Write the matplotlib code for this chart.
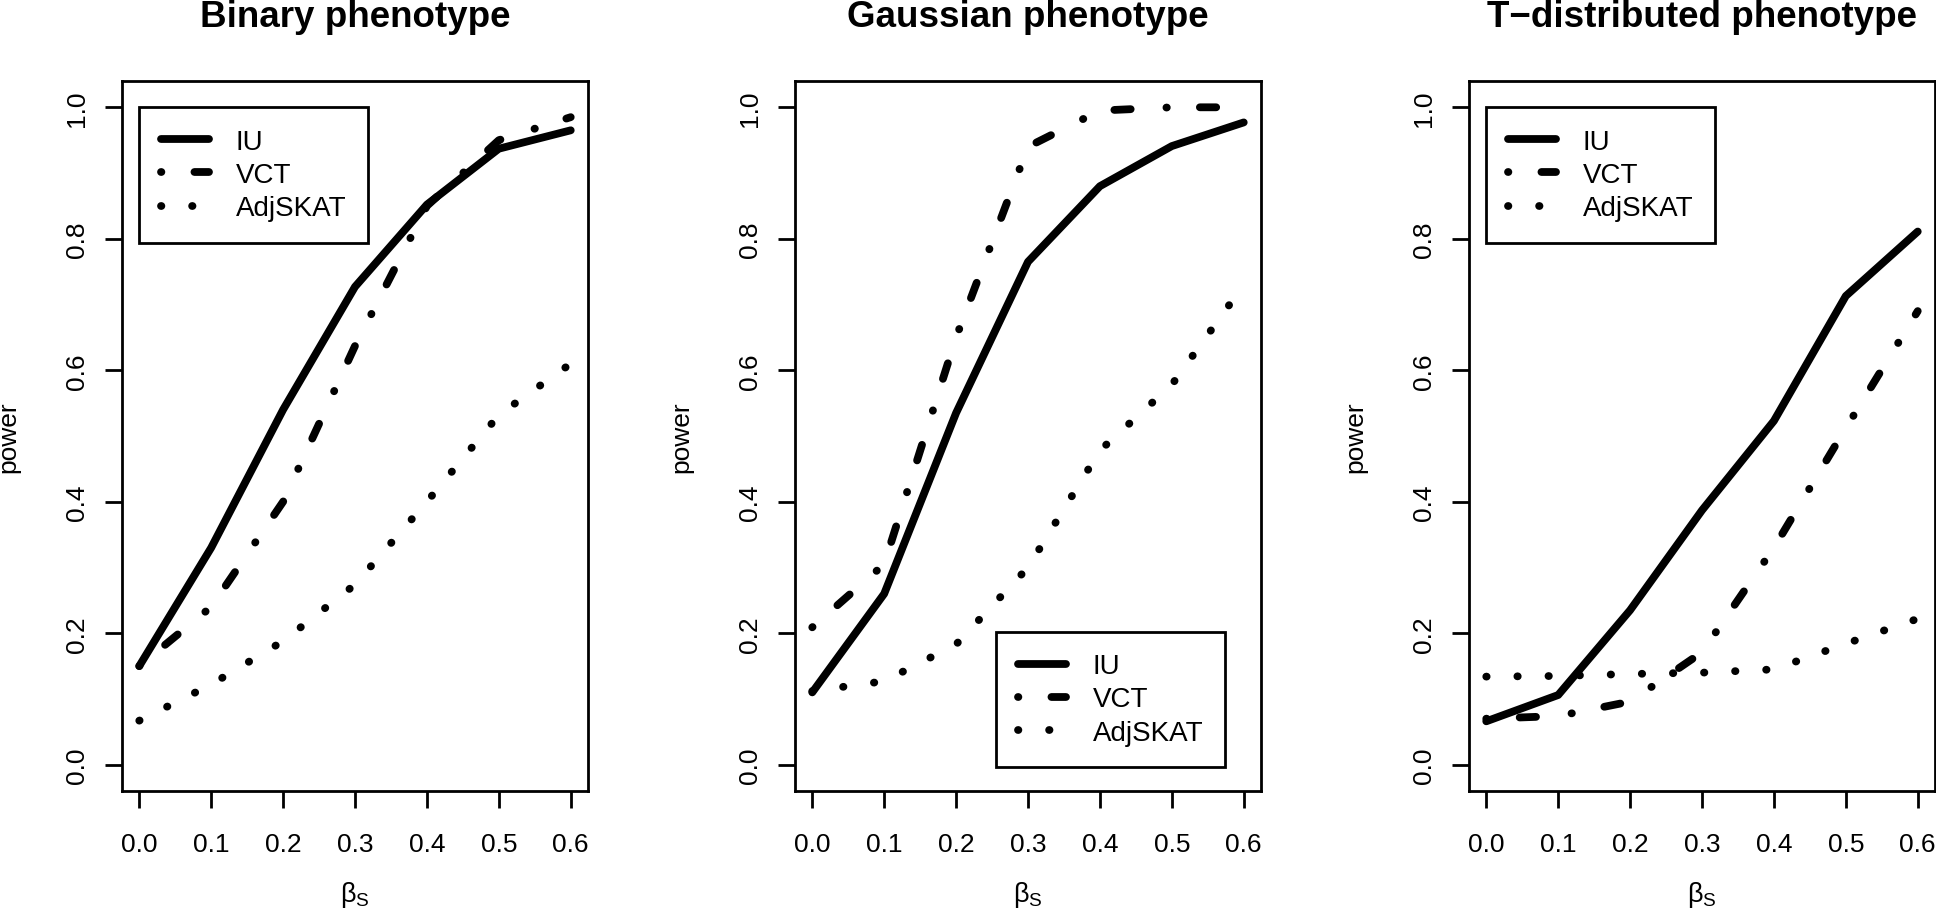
"""
Puissance des tests IU, VCT et AdjSKAT selon beta_S, pour trois phénotypes.
"""

import matplotlib
matplotlib.use("Agg")
import matplotlib.pyplot as plt

# ── Données ───────────────────────────────────────────────────────────
beta = [0.0, 0.1, 0.2, 0.3, 0.4, 0.5, 0.6]
titles = ["Binary phenotype", "Gaussian phenotype", "T\u2212distributed phenotype"]
methods = ["IU", "VCT", "AdjSKAT"]

iu_binary = [0.15, 0.33, 0.54, 0.727, 0.852, 0.937, 0.965]
vct_binary = [0.15, 0.24, 0.40, 0.637, 0.85, 0.95, 0.985]
adj_binary = [0.067, 0.122, 0.188, 0.274, 0.40, 0.532, 0.61]

iu_gauss = [0.11, 0.26, 0.535, 0.765, 0.88, 0.941, 0.977]
vct_gauss = [0.209, 0.305, 0.65, 0.94, 0.995, 1.0, 1.0]
adj_gauss = [0.112, 0.127, 0.183, 0.30, 0.478, 0.578, 0.73]

iu_t = [0.066, 0.106, 0.235, 0.387, 0.523, 0.713, 0.811]
vct_t = [0.07, 0.074, 0.096, 0.171, 0.33, 0.512, 0.69]
adj_t = [0.134, 0.135, 0.138, 0.14, 0.145, 0.184, 0.222]

panels = [
    (iu_binary, vct_binary, adj_binary),
    (iu_gauss, vct_gauss, adj_gauss),
    (iu_t, vct_t, adj_t),
]
legend_loc = ["upper left", "lower right", "upper left"]
legend_anchor = [(0.0, 1.0), (0.574, -0.004), (0.0, 1.0)]

xticks = [0.0, 0.1, 0.2, 0.3, 0.4, 0.5, 0.6]
yticks = [0.0, 0.2, 0.4, 0.6, 0.8, 1.0]

# ── Style (imitation R base graphics) ─────────────────────────────────
plt.rcParams["font.family"] = ["Liberation Sans", "DejaVu Sans"]
plt.rcParams["mathtext.fontset"] = "custom"
plt.rcParams["mathtext.rm"] = "Liberation Sans"

LW = 5.6
styles = [
    dict(linestyle="-", solid_capstyle="round", solid_joinstyle="round"),
    dict(linestyle=(0, (0.05, 4.25, 2.1, 4.6)), dash_capstyle="round",
         dash_joinstyle="round"),
    dict(linestyle=(0, (0.05, 3.95)), dash_capstyle="round",
         dash_joinstyle="round"),
]

W, H = 1936, 920
fig = plt.figure(figsize=(W / 100, H / 100), dpi=100)
lefts = [122, 795, 1469]

for i, (series, title) in enumerate(zip(panels, titles)):
    ax = fig.add_axes([lefts[i] / W, 128 / H, 466 / W, 710 / H])

    for vals, name, st in zip(series, methods, styles):
        ax.plot(beta, vals, color="black", lw=LW, label=name, **st)

    ax.set_xlim(-0.024, 0.624)
    ax.set_ylim(-0.04, 1.04)
    ax.set_xticks(xticks)
    ax.set_xticklabels([f"{v:.1f}" for v in xticks])
    ax.set_yticks(yticks)
    ax.set_yticklabels([f"{v:.1f}" for v in yticks], rotation=90, va="center")

    for s in ax.spines.values():
        s.set_linewidth(2.0)
    ax.tick_params(direction="out", length=12.5, width=2.0, labelsize=19)
    ax.tick_params(axis="x", pad=17)
    ax.tick_params(axis="y", pad=11)

    ax.text(0.5, 1 + 55 / 710, title, transform=ax.transAxes, ha="center",
            va="baseline", fontsize=26.5, fontweight="bold")
    ax.text(-0.2436, 0.5, "power", transform=ax.transAxes, rotation=90,
            ha="center", va="center", fontsize=19)
    ax.text(0.5, -0.145, "\u03b2$_{\\mathrm{S}}$", transform=ax.transAxes,
            ha="center", va="center", fontsize=19.5)

    leg = ax.legend(loc=legend_loc[i], bbox_to_anchor=legend_anchor[i],
                    bbox_transform=ax.transData, borderaxespad=0,
                    fontsize=20, fancybox=False, framealpha=1,
                    edgecolor="black", handlelength=1.73, handletextpad=0.97,
                    borderpad=0.78, labelspacing=0.26)
    leg.get_frame().set_linewidth(2.0)

fig.savefig("out.png", dpi=100, facecolor="white")
plt.close()
